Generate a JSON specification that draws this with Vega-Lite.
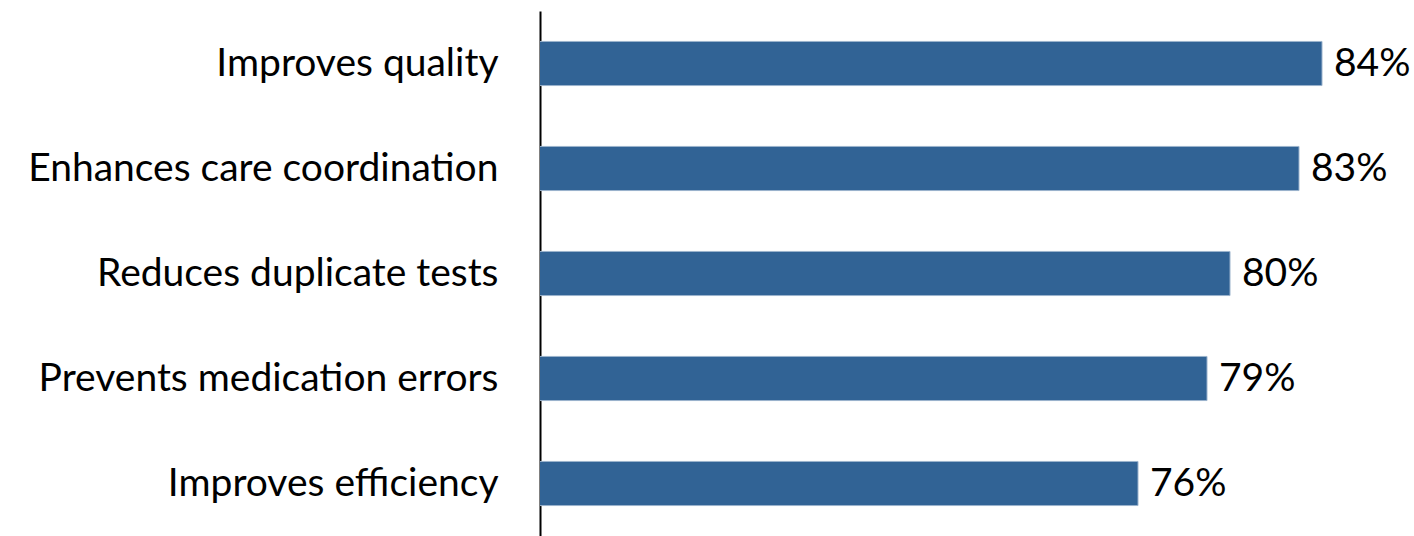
{
  "$schema": "https://vega.github.io/schema/vega-lite/v6.json",
  "autosize": "none",
  "width": 874,
  "height": 525,
  "padding": {"left": 540, "top": 11, "right": 0, "bottom": 0},
  "background": "white",
  "config": {"view": {"stroke": null}, "font": "Lato"},
  "data": {
    "values": [
      {"item": "Improves quality", "share": 0.84},
      {"item": "Enhances care coordination", "share": 0.83},
      {"item": "Reduces duplicate tests", "share": 0.80},
      {"item": "Prevents medication errors", "share": 0.79},
      {"item": "Improves efficiency", "share": 0.76}
    ]
  },
  "encoding": {
    "y": {
      "field": "item", "type": "nominal", "sort": null,
      "scale": {"paddingInner": 0.58, "paddingOuter": 0.29},
      "axis": {
        "title": null, "ticks": false, "grid": false,
        "domainColor": "#000000", "domainWidth": 2,
        "labelFont": "Lato", "labelFontSize": 39, "labelColor": "#000000",
        "labelPadding": 42, "labelLimit": 600
      }
    },
    "x": {
      "field": "share", "type": "quantitative",
      "scale": {"domain": [0.5, 0.88], "zero": false, "clamp": false},
      "axis": null
    }
  },
  "layer": [
    {"mark": {"type": "bar", "color": "#316395", "stroke": "#9bb3cc", "strokeWidth": 1, "clip": true}},
    {"mark": {"type": "text", "align": "left", "baseline": "middle", "dx": 12, "fontSize": 39, "font": "Lato", "color": "#000000"},
     "encoding": {"text": {"field": "share", "type": "quantitative", "format": ".0%"}}}
  ]
}
